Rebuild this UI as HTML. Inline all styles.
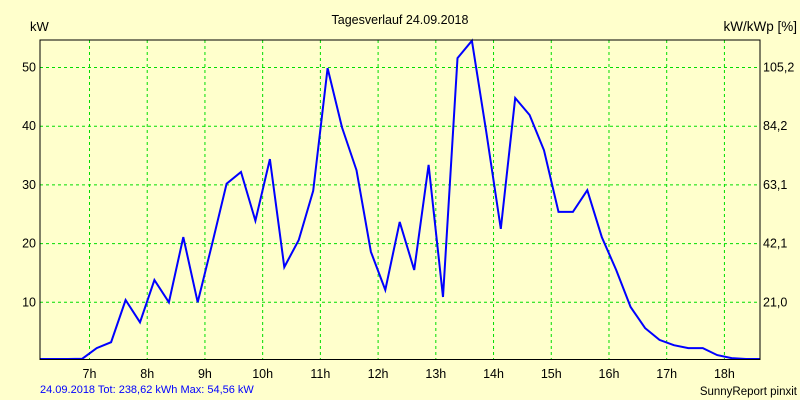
<!DOCTYPE html>
<html><head><meta charset="utf-8"><style>
html,body{margin:0;padding:0;background:#FFFFCC;}
svg{display:block;font-family:"Liberation Sans",Arial,sans-serif;}
</style></head><body>
<svg id="chart" width="800" height="400" viewBox="0 0 800 400">
<rect x="0" y="0" width="800" height="400" fill="#FFFFCC"/>
<text x="400" y="24" text-anchor="middle" font-size="12.5" fill="#000">Tagesverlauf 24.09.2018</text>
<text x="30" y="31" font-size="13" fill="#000">kW</text>
<text x="797" y="31" text-anchor="end" font-size="13.5" fill="#000">kW/kWp [%]</text>
<g id="grid"></g>
<g id="ticks"></g>
<g id="series"></g>
<rect x="40" y="40" width="720" height="319.5" fill="none" stroke="#000" stroke-width="1"/>
<text x="40" y="393" font-size="11" fill="#0000FF">24.09.2018 Tot: 238,62 kWh Max: 54,56 kW</text>
<text x="797" y="395" text-anchor="end" font-size="11.5" fill="#000">SunnyReport pinxit</text>
</svg>
<script>
const hourTicks = [7,8,9,10,11,12,13,14,15,16,17,18];
const hourLabels = ["7h","8h","9h","10h","11h","12h","13h","14h","15h","16h","17h","18h"];
const kwTicks = [10,20,30,40,50];
const pctLabels = ["21,0","42,1","63,1","84,2","105,2"];
const times = [6.125,6.375,6.625,6.875,7.125,7.375,7.625,7.875,8.125,8.375,8.625,8.875,9.125,9.375,9.625,9.875,10.125,10.375,10.625,10.875,11.125,11.375,11.625,11.875,12.125,12.375,12.625,12.875,13.125,13.375,13.625,13.875,14.125,14.375,14.625,14.875,15.125,15.375,15.625,15.875,16.125,16.375,16.625,16.875,17.125,17.375,17.625,17.875,18.125,18.375,18.625];
const power = [0,0,0,0.4,2.2,3.2,10.4,6.6,13.8,10.0,21.1,10.0,20.0,30.2,32.2,23.9,34.4,16.0,20.6,29.0,49.9,39.8,32.5,18.6,12.1,23.7,15.5,33.4,10.9,51.6,54.56,39.0,22.5,44.8,41.9,35.9,25.4,25.4,29.1,21.1,15.5,9.2,5.6,3.6,2.7,2.2,2.2,1.0,0.5,0,0];

const NS="http://www.w3.org/2000/svg";
const xs = h => 89.5 + (h-7)*57.72;
const ys = v => Math.min(359, 361 - v*5.87);
const grid=document.getElementById('grid'), ticks=document.getElementById('ticks'), series=document.getElementById('series');
function mk(tag, attrs){const e=document.createElementNS(NS,tag);for(const k in attrs)e.setAttribute(k,attrs[k]);return e;}
hourTicks.forEach((h,i)=>{
  const l=mk('line',{x1:xs(h),x2:xs(h),y1:40,y2:359,stroke:'#00DD00','stroke-dasharray':'3,3','stroke-width':1});
  
  
  grid.appendChild(l);
  const t=mk('text',{x:xs(h),y:378,'text-anchor':'middle','font-size':12.5,fill:'#000'});
  t.textContent=hourLabels[i];
  
  
  ticks.appendChild(t);
});
kwTicks.forEach((v,i)=>{
  const y=361-v*5.87;
  const l=mk('line',{x1:40,x2:760,y1:y,y2:y,stroke:'#00DD00','stroke-dasharray':'3,3','stroke-width':1});
  
  
  grid.appendChild(l);
  const t=mk('text',{x:36,y:y+4,'text-anchor':'end','font-size':12.5,fill:'#000'});
  t.textContent=String(v);
  
  
  ticks.appendChild(t);
  const r=mk('text',{x:763,y:y+4,'font-size':12.5,fill:'#000'});
  r.textContent=pctLabels[i];
  
  
  ticks.appendChild(r);
});
const pts=times.map((t,i)=>Math.max(40,Math.min(760,xs(t))).toFixed(1)+','+ys(power[i]).toFixed(1)).join(' ');
const pl=mk('polyline',{points:pts,fill:'none',stroke:'#0000FF','stroke-width':2,'stroke-linejoin':'miter'});


series.appendChild(pl);
</script>
</body></html>
